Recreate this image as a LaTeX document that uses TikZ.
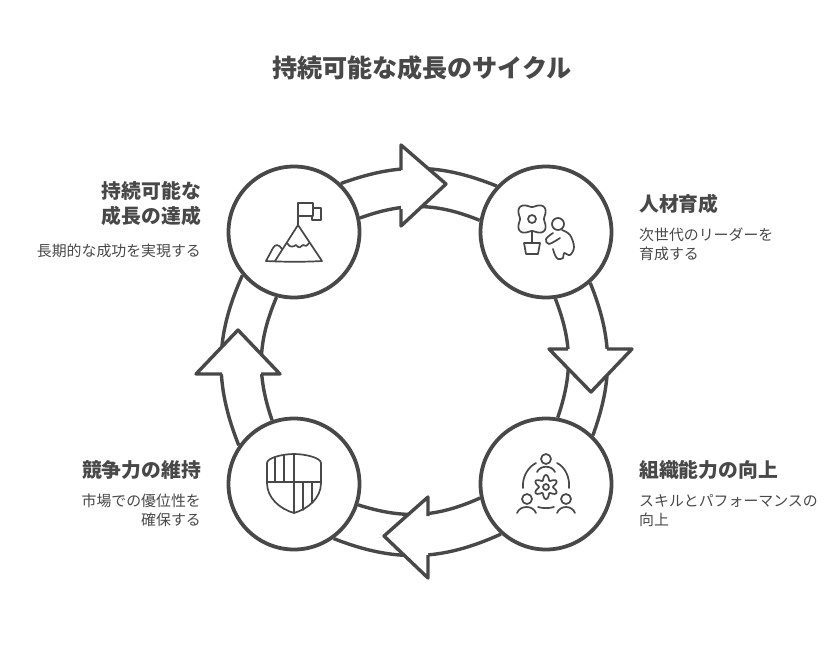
\documentclass[tikz,border=0pt]{standalone}
\usepackage{fontspec}
\setmainfont{Noto Sans CJK JP}
\definecolor{inkgray}{HTML}{484848}
\tikzset{
	hub/.style={circle, draw=inkgray, line width=3.8pt, fill=white, minimum size=131pt, inner sep=0pt},
	ringline/.style={draw=inkgray, line width=3.4pt},
	headline/.style={draw=inkgray, fill=white, line width=3.4pt, line join=round},
	iconline/.style={draw=inkgray, line width=1.7pt, line cap=round, line join=round},
	titlelabel/.style={text=inkgray, inner sep=0pt, font=\fontsize{25.1}{30}\selectfont\bfseries},
	headlabel/.style={text=inkgray, inner sep=0pt, align=left, font=\fontsize{19.8}{25}\selectfont\bfseries},
	bodylabel/.style={text=inkgray, inner sep=0pt, align=left, font=\fontsize{14.9}{19}\selectfont}
}
\begin{document}
\begin{tikzpicture}[x=1pt, y=-1pt]
	\useasboundingbox (0, 0) rectangle (840, 651);
	\node[titlelabel] (title) at (422, 68) {持続可能な成長のサイクル};

	\node[hub] (summit) at (294, 232) {};
	\node[hub] (grow) at (546, 232) {};
	\node[hub] (skill) at (546, 484) {};
	\node[hub] (shield) at (294, 484) {};

	% ring
	\draw[ringline] (summit.46) to[bend left=21] (grow.137);
	\draw[ringline] (summit.12) to[bend left=21] (grow.170);
	\draw[ringline] (grow.-49) to[bend left=21] (skill.46);
	\draw[ringline] (grow.-82) to[bend left=20] (skill.80);
	\draw[ringline] (skill.-132) to[bend left=23] (shield.-54);
	\draw[ringline] (skill.-168) to[bend left=21] (shield.-18);
	\draw[ringline] (shield.145) to[bend left=23] (summit.-140);
	\draw[ringline] (shield.109) to[bend left=21] (summit.-105);

	% heads
	\coordinate (topA) at (401, 170);
	\coordinate (topB) at (401, 209);
	\coordinate (rightA) at (607, 349);
	\coordinate (rightB) at (568, 349);
	\coordinate (lowA) at (428, 555);
	\coordinate (lowB) at (428, 516);
	\coordinate (leftA) at (222, 374);
	\coordinate (leftB) at (261, 374);
	\draw[headline] (topA) -- (401, 145) -- (446, 184) -- (401, 226) -- (topB);
	\draw[headline] (rightA) -- (632, 349) -- (591, 392) -- (549, 349) -- (rightB);
	\draw[headline] (lowA) -- (428, 578) -- (384, 536) -- (428, 497) -- (lowB);
	\draw[headline] (leftA) -- (196, 374) -- (238, 330) -- (280, 374) -- (leftB);

	% mountain
	\draw[iconline] (266, 261) .. controls (285, 262) and (305, 262) .. (322, 261) -- (298, 225) -- (275, 261);
	\draw[iconline] (266, 261) -- (273, 248) .. controls (275, 244) and (279, 244) .. (282, 249);
	\draw[iconline] (287, 243) .. controls (290, 248) and (293, 247) .. (296, 245) .. controls (299, 249) and (301, 247) .. (303, 245) .. controls (305, 247) and (307, 246) .. (309, 243);
	\draw[iconline] (298, 225) -- (298, 203) -- (313, 203) -- (313, 216) -- (298, 216);
	\draw[iconline] (313, 208) -- (321, 208) -- (321, 220) -- (312, 220) -- (312, 216);

	% plant and person
	\draw[iconline] plot[domain=0:360, samples=73, smooth] ({532+(14.5-2.5*cos(4*\x))*cos(\x)}, {219+(14.5-2.5*cos(4*\x))*sin(\x)});
	\draw[iconline] (532, 219) circle (4);
	\draw[iconline] (532, 231) -- (532, 243);
	\draw[iconline] (524, 243) -- (540, 243) -- (538, 254) -- (526, 254) -- cycle;
	\draw[iconline] (558, 224) circle (6);
	\draw[iconline] plot[smooth, tension=.6] coordinates {(562, 230) (570, 235) (574, 247) (570, 255) (564, 253) (563, 258) (558, 259) (555, 255) (553, 249)};
	\draw[iconline] plot[smooth, tension=.6] coordinates {(553, 233) (546, 239) (549, 244) (560, 238)};

	% people and gear
	\draw[iconline] (546, 459) circle (5);
	\draw[iconline] (527, 499) circle (5);
	\draw[iconline] (566, 499) circle (5);
	\draw[iconline] (537, 472) .. controls (540, 465) and (552, 465) .. (555, 472);
	\draw[iconline] (517, 513) .. controls (520, 505) and (533, 505) .. (536, 513);
	\draw[iconline] (557, 513) .. controls (560, 505) and (572, 505) .. (575, 513);
	\draw[iconline] (536, 463) .. controls (528, 467) and (522, 477) .. (523, 488);
	\draw[iconline] (557, 463) .. controls (565, 467) and (570, 477) .. (569, 488);
	\draw[iconline] (538, 507) .. controls (543, 508.5) and (549, 508.5) .. (554, 507);
	\draw[iconline] plot[domain=0:360, samples=121, smooth] ({546+(9.5-2.5*cos(6*\x))*cos(\x)}, {487+(9.5-2.5*cos(6*\x))*sin(\x)});
	\draw[iconline] (546, 487) circle (3);

	% shield
	\draw[iconline] (267, 463) .. controls (267, 458) and (282, 454) .. (294, 454) .. controls (306, 454) and (321, 458) .. (321, 463) -- (321, 483) .. controls (321, 498) and (308, 509) .. (294, 513) .. controls (280, 509) and (267, 498) .. (267, 483) -- cycle;
	\draw[iconline] (294, 454) -- (294, 513);
	\draw[iconline] (267, 482) -- (321, 482);
	\draw[iconline] (275, 457) -- (275, 482);
	\draw[iconline] (284, 455) -- (284, 482);
	\draw[iconline] (303, 482) -- (303, 510);
	\draw[iconline] (312, 482) -- (312, 503);

	% labels
	\node[headlabel, align=right, anchor=north east] (summithead) at (201, 181) {持続可能な\\成長の達成};
	\node[bodylabel, align=right, anchor=east] (summitbody) at (201, 251) {長期的な成功を実現する};
	\node[headlabel, anchor=west] (growhead) at (639, 204) {人材育成};
	\node[bodylabel, anchor=north west] (growbody) at (639, 228) {次世代のリーダーを\\育成する};
	\node[headlabel, anchor=west] (skillhead) at (639, 470) {組織能力の向上};
	\node[bodylabel, anchor=north west] (skillbody) at (639, 494) {スキルとパフォーマンスの\\向上};
	\node[headlabel, align=right, anchor=east] (shieldhead) at (201, 470) {競争力の維持};
	\node[bodylabel, align=right, anchor=north east] (shieldbody) at (201, 494) {市場での優位性を\\確保する};
\end{tikzpicture}
\end{document}
